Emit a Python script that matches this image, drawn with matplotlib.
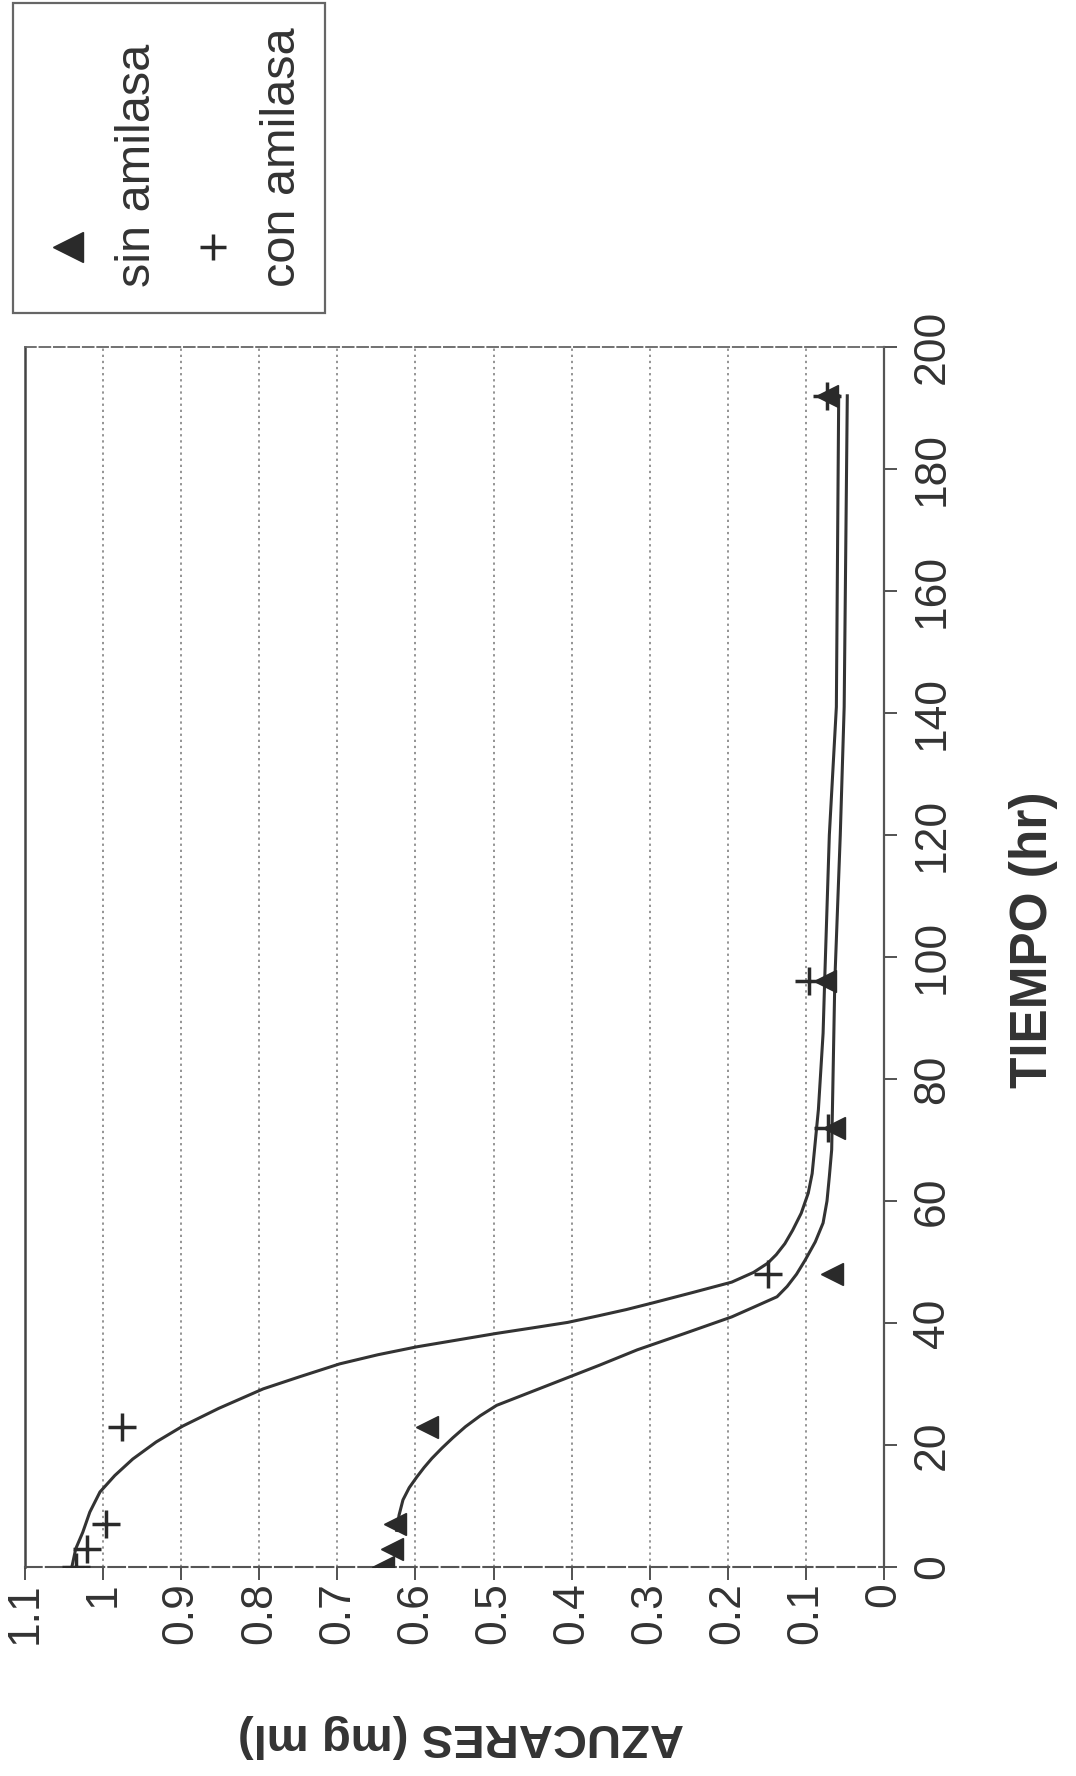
import matplotlib
matplotlib.use("Agg")
import matplotlib.pyplot as plt
from matplotlib.patches import Rectangle
from matplotlib.lines import Line2D

plt.rcParams['font.family'] = ['Liberation Sans', 'DejaVu Sans']

# ---- data (time in hr, sugar in mg/ml) ----
sin_t = [0, 3, 7, 23, 48, 72, 96, 192]
sin_v = [0.641, 0.630, 0.626, 0.585, 0.067, 0.064, 0.076, 0.073]
con_t = [0, 3, 7, 23, 48, 72, 96, 192]
con_v = [1.035, 1.020, 0.996, 0.976, 0.149, 0.072, 0.096, 0.073]

# smooth trend curves
con_curve_t = [0, 3, 5.7, 9, 12.3, 15, 17.7, 20.5, 23.1, 26, 29.2, 31.2, 33.3,
               34.8, 36.1, 37.2, 38.3, 39.2, 40.1, 41.2, 42.2, 43.3, 45, 46.7,
               48.3, 49.8, 51.2, 53, 55.2, 58, 61.3, 64.5, 68.4, 75, 87.5, 96,
               120, 141, 192]
con_curve_v = [1.040, 1.035, 1.026, 1.017, 1.004, 0.985, 0.962, 0.932, 0.898,
               0.852, 0.795, 0.748, 0.697, 0.648, 0.598, 0.547, 0.496, 0.450,
               0.405, 0.365, 0.330, 0.296, 0.245, 0.195, 0.167, 0.149, 0.138,
               0.127, 0.117, 0.106, 0.097, 0.092, 0.089, 0.084, 0.078, 0.076,
               0.070, 0.061, 0.058]
sin_curve_t = [6, 8.5, 11, 13, 14.8, 16.3, 17.8, 19.5, 21.2, 23, 24.8, 26.5,
               29, 31.5, 33.1, 35.6, 38.3, 41, 42.7, 44.3, 46, 48, 50.3, 53.3,
               56.4, 60, 64, 68.4, 96, 120, 141, 192]
sin_curve_v = [0.624, 0.621, 0.616, 0.608, 0.598, 0.589, 0.579, 0.566, 0.552,
               0.536, 0.517, 0.496, 0.446, 0.396, 0.364, 0.316, 0.255, 0.195,
               0.165, 0.137, 0.124, 0.112, 0.101, 0.088, 0.078, 0.073, 0.070,
               0.067, 0.063, 0.056, 0.051, 0.047]

sugar_ticks = [1.1, 1.0, 0.9, 0.8, 0.7, 0.6, 0.5, 0.4, 0.3, 0.2, 0.1, 0.0]
sugar_labels = ['1.1', '1', '0.9', '0.8', '0.7', '0.6', '0.5', '0.4', '0.3',
                '0.2', '0.1', '0']
time_ticks = [0, 20, 40, 60, 80, 100, 120, 140, 160, 180, 200]
time_labels = [str(t) for t in time_ticks]

series_names = ['sin amilasa', 'con amilasa']
x_label = 'TIEMPO (hr)'
y_label = 'AZUCARES (mg ml)'

W, H = 1076, 1776
fig = plt.figure(figsize=(W / 100, H / 100), dpi=100)
fig.patch.set_facecolor('white')

L, R, T, B = 25, 884, 347, 1567
ax = fig.add_axes([L / W, 1 - B / H, (R - L) / W, (B - T) / H])

ink = '#2a2a2a'
ax.plot(con_curve_v, con_curve_t, color='#333333', lw=2.2, zorder=3,
        solid_joinstyle='round')
ax.plot(sin_curve_v, sin_curve_t, color='#333333', lw=2.2, zorder=3,
        solid_joinstyle='round')
ax.plot(sin_v, sin_t, ls='none', marker='<', ms=16, color=ink, zorder=4)
ax.plot(con_v, con_t, ls='none', marker='+', ms=20, mew=2.5, color=ink, zorder=4)

ax.set_xlim(1.1, 0)
ax.set_ylim(0, 200)

ax.set_xticks(sugar_ticks)
ax.set_xticklabels(sugar_labels)
ax.set_yticks(time_ticks)
ax.set_yticklabels(time_labels)
ax.yaxis.tick_right()

ax.tick_params(axis='x', labelrotation=90, length=9, width=1.3, pad=2,
               labelsize=32, colors='#444', labelcolor='#333')
ax.tick_params(axis='y', left=False, right=True, labelleft=False,
               labelright=True, labelrotation=90, length=9, width=1.3,
               pad=11, labelsize=32, colors='#444', labelcolor='#333')
for lbl in ax.get_yticklabels():
    lbl.set_va('center')
    lbl.set_ha('left')

ax.xaxis.grid(True, ls=(0, (1.5, 2.5)), color='#777777', lw=1.1)
ax.yaxis.grid(False)

ax.spines['left'].set_color('#444')
ax.spines['left'].set_linewidth(1.8)
ax.spines['right'].set_color('#555')
ax.spines['right'].set_linewidth(1.6)
ax.spines['bottom'].set_color('#555')
ax.spines['bottom'].set_linewidth(1.5)
ax.spines['bottom'].set_linestyle((0, (8, 2)))
ax.spines['top'].set_color('#666')
ax.spines['top'].set_linewidth(1.3)
ax.spines['top'].set_linestyle((0, (6, 2)))

# axis titles (rotated like the scanned page)
fig.text(1033 / W, 1 - 940 / H, x_label, rotation=90, ha='center',
         va='center', fontsize=37, fontweight='bold', color='#333')
fig.text(461 / W, 1 - 1736 / H, y_label, rotation=180, ha='center',
         va='center', fontsize=34, fontweight='bold', color='#333')

# legend box (rotated)
fig.add_artist(Rectangle((13 / W, 1 - 313 / H), 312 / W, 310 / H,
                         transform=fig.transFigure, fill=False,
                         ec='#666', lw=1.6))
fig.add_artist(Line2D([68 / W], [1 - 247 / H], marker='<', ms=22, color=ink,
                      ls='none', transform=fig.transFigure))
fig.add_artist(Line2D([213 / W], [1 - 247 / H], marker='+', ms=19, mew=2.5,
                      color=ink, ls='none', transform=fig.transFigure))
fig.text(150 / W, 1 - 287 / H, series_names[0], rotation=90,
         rotation_mode='anchor', ha='left', va='baseline', fontsize=35,
         color='#333')
fig.text(295 / W, 1 - 287 / H, series_names[1], rotation=90,
         rotation_mode='anchor', ha='left', va='baseline', fontsize=35,
         color='#333')

fig.savefig('out.png', dpi=100, facecolor='white')
